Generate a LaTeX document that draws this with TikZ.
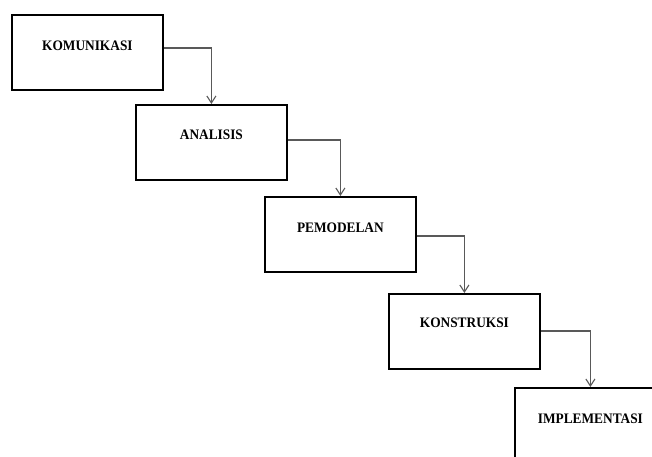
\documentclass[tikz,border=0pt]{standalone}
\usepackage{fontspec}
\setmainfont{Liberation Serif}
\usetikzlibrary{arrows.meta}
\begin{document}
\begin{tikzpicture}[x=1pt,y=1pt,
  stagebox/.style={draw=black,line width=1.8pt,minimum width=151pt,minimum height=75pt,inner sep=0pt,anchor=north west},
  stagetext/.style={font=\fontsize{14.5}{16}\selectfont\bfseries,xscale=0.92,inner sep=0pt,text=black},
  flow/.style={draw=black!65,line width=1.2pt,-{Straight Barb[length=7pt,width=9pt,line width=1.1pt]}}]
\useasboundingbox (0,0) rectangle (652,456);
\clip (0,0) rectangle (652,456);
\node[stagebox] (b1) at (11,442) {};
\node[stagebox] (b2) at (135,352) {};
\node[stagebox] (b3) at (264,260) {};
\node[stagebox] (b4) at (388,163) {};
\node[stagebox] (b5) at (514,69) {};
\node[stagetext] (t1) at ([yshift=-32pt]b1.north) {KOMUNIKASI};
\node[stagetext] (t2) at ([yshift=-31pt]b2.north) {ANALISIS};
\node[stagetext] (t3) at ([yshift=-32pt]b3.north) {PEMODELAN};
\node[stagetext] (t4) at ([yshift=-30pt]b4.north) {KONSTRUKSI};
\node[stagetext] (t5) at ([yshift=-32pt]b5.north) {IMPLEMENTASI};
\draw[flow] ([yshift=-34pt]b1.north east) -| (b2.north);
\draw[flow] ([yshift=-36pt]b2.north east) -| (b3.north);
\draw[flow] ([yshift=-40pt]b3.north east) -| (b4.north);
\draw[flow] ([yshift=-38pt]b4.north east) -| (b5.north);
\end{tikzpicture}
\end{document}
